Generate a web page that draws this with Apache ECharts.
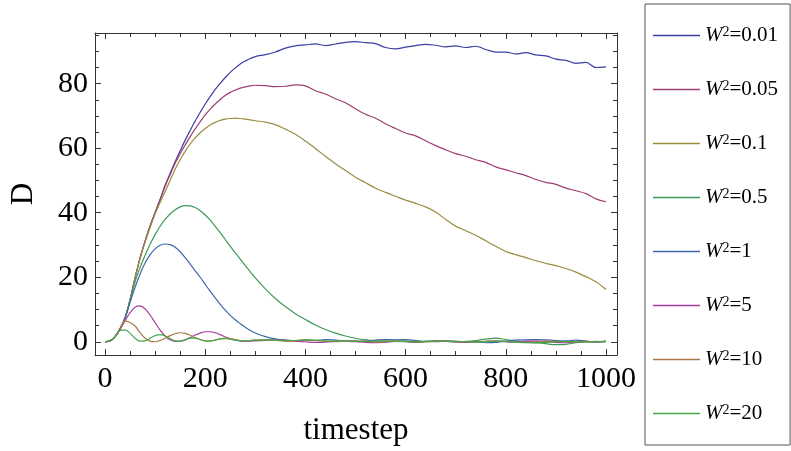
<!DOCTYPE html>
<html>
<head>
<meta charset="utf-8">
<script src="https://cdn.jsdelivr.net/npm/echarts@6.0.0/dist/echarts.min.js"></script>
<style>
  html, body { margin: 0; padding: 0; background: #fff; }
  #chart { width: 791px; height: 451px; }
</style>
</head>
<body>
<div id="chart"></div>
<script>
// ---- data ----
var seriesNames = ['W²=0.01', 'W²=0.05', 'W²=0.1', 'W²=0.5', 'W²=1', 'W²=5', 'W²=10', 'W²=20'];
var tSteps = [0,10,20,30,40,50,60,70,80,90,100,110,120,130,140,150,160,170,180,190,200,210,220,230,240,250,260,270,280,290,300,
  320,340,360,380,400,420,440,460,480,500,520,540,560,580,600,620,640,660,680,700,720,740,760,780,800,820,840,860,880,900,920,940,960,980,1000];
var d001 = [0,0.3,1.6,4.0,7.4,13.0,19.8,26.0,31.2,35.9,40.1,44.2,48.5,52.2,55.8,59.2,62.5,65.5,68.4,71.1,73.7,76.0,78.2,80.1,81.9,83.5,84.9,86.1,87.0,87.8,88.4,
  89.0,89.8,91.0,91.7,92.0,92.3,91.8,92.3,92.8,93.0,92.7,92.4,91.2,90.8,91.3,91.8,92.2,91.9,91.4,91.7,91.2,91.6,90.6,89.8,89.8,89.2,89.6,88.9,88.6,87.6,87.2,86.3,86.6,85.0,85.2];
var d005 = [0,0.3,1.6,4.0,7.4,13.0,19.8,26.0,31.2,35.9,40.0,44.0,48.2,51.8,55.3,58.3,61.0,63.6,66.0,68.2,70.3,72.1,73.7,75.1,76.3,77.3,78.0,78.6,79.0,79.3,79.5,
  79.4,79.1,79.2,79.6,79.3,77.8,76.8,75.3,74.1,72.2,70.5,69.3,67.6,66.1,64.7,63.8,62.3,60.8,59.5,58.3,57.5,56.4,55.6,54.2,53.3,52.4,51.5,50.3,49.4,48.8,47.6,46.8,45.9,44.3,43.4];
var d01 = [0,0.3,1.6,4.0,7.4,13.0,19.7,25.8,30.9,35.4,39.6,43.2,46.6,50.0,53.5,56.4,59.0,61.3,63.2,64.8,66.1,67.2,68.0,68.6,69.0,69.2,69.3,69.2,69.0,68.8,68.5,
  68.1,67.3,65.9,64.3,62.2,59.9,57.5,55.2,53.1,51.0,49.3,47.6,46.3,45.1,43.9,42.9,41.8,40.2,37.9,35.8,34.4,33.0,31.3,29.6,28.0,27.0,26.1,25.1,24.3,23.6,22.7,21.6,20.2,18.6,16.2];
var d05 = [0,0.3,1.6,4.0,7.4,12.8,18.6,23.0,26.8,30.2,33.2,35.8,37.9,39.6,40.9,41.8,42.2,42.1,41.6,40.6,39.3,37.7,35.8,33.8,31.7,29.6,27.6,25.6,23.6,21.7,19.8,
  16.4,13.4,10.9,8.7,6.9,5.2,3.8,2.7,1.8,1.1,0.6,0.3,0.2,0.1,0.3,0.1,0.0,0.2,0.1,-0.1,0.1,0.4,0.8,1.1,0.7,0.2,0.0,-0.2,-0.6,-0.9,-0.8,-0.3,0.0,0.1,0.0];
var d1 = [0,0.3,1.6,4.0,7.3,12.2,16.9,21.0,24.4,27.0,28.8,29.9,30.3,30.1,29.3,27.9,26.1,24.1,22.0,20.0,17.8,15.6,13.6,11.6,9.8,8.2,6.8,5.6,4.5,3.5,2.7,
  1.6,0.9,0.5,0.3,0.5,0.4,0.7,0.5,0.2,0.0,0.2,0.5,0.7,0.6,0.7,0.4,0.1,0.0,0.2,0.1,-0.1,0.0,-0.3,-0.2,0.2,0.5,0.6,0.7,0.6,0.4,0.3,0.5,0.2,-0.1,0.0];
var d5 = [0,0.3,1.6,3.8,6.5,9.0,10.7,11.1,10.2,8.3,5.9,3.6,1.8,0.6,0.1,0.2,0.6,1.3,2.1,2.7,3.1,3.1,2.8,2.2,1.5,0.9,0.5,0.3,0.2,0.2,0.3,
  0.4,0.6,0.5,0.2,0.0,-0.2,-0.1,0.2,0.3,0.1,-0.2,-0.3,-0.1,0.1,0.0,-0.2,0.1,0.3,0.2,0.0,-0.2,-0.1,0.1,0.2,0.0,-0.1,0.2,0.3,0.1,-0.2,-0.3,-0.1,0.1,0.0,0.1];
var d10 = [0,0.3,1.6,3.8,6.5,6.0,4.9,2.8,1.1,0.2,0.0,0.4,1.1,1.9,2.5,2.8,2.6,2.0,1.3,0.7,0.3,0.3,0.6,0.9,1.1,1.0,0.7,0.4,0.3,0.4,0.5,
  0.6,0.4,0.2,0.3,0.5,0.4,0.1,0.0,0.2,0.3,0.1,-0.1,0.0,0.2,0.1,-0.1,0.0,0.2,0.3,0.1,0.0,-0.1,0.1,0.2,0.1,-0.1,-0.2,0.0,0.2,0.1,0.0,-0.1,0.1,0.0,0.1];
var d20 = [0,0.3,1.6,3.5,3.7,2.6,1.1,0.2,0.3,1.1,1.9,2.2,1.8,1.0,0.3,0.2,0.6,1.1,1.1,0.7,0.3,0.2,0.5,0.9,1.0,0.8,0.5,0.3,0.3,0.4,0.5,
  0.6,0.5,0.3,0.4,0.6,0.5,0.3,0.2,0.3,0.2,0.1,0.2,0.3,0.2,0.1,0.0,0.1,0.3,0.2,0.1,0.0,-0.1,0.0,0.2,0.1,-0.1,-0.3,-0.4,-0.2,0.0,0.1,0.0,-0.1,0.0,0.1];
var xMajorTicks = [0, 200, 400, 600, 800, 1000];
var xMinorTicks = [50,100,150,250,300,350,450,500,550,650,700,750,850,900,950];
var yMajorTicks = [0, 20, 40, 60, 80];
var yMinorTicks = [5,10,15,25,30,35,45,50,55,65,70,75,85,90,95];

var allValues = [d001, d005, d01, d05, d1, d5, d10, d20];
var colors = ['#3d3da3', '#a03d72', '#9c8c3c', '#3d9a58', '#3f68aa', '#a53d9e', '#a8784a', '#48a848'];

// ---- chart ----
var FONT = 'Liberation Serif';
var X_MIN = -20, X_MAX = 1022, Y_MIN = -4.1, Y_MAX = 95.7;
var frameColor = '#333';
function plainNum(v) { return String(v); }

function xAxisDef(pos, ticks, len, showLine, showLabel) {
  return {
    type: 'value', position: pos, min: X_MIN, max: X_MAX,
    axisLine: { show: showLine, onZero: false, lineStyle: { color: frameColor, width: 1 } },
    axisTick: { show: true, inside: true, length: len, customValues: ticks, lineStyle: { color: frameColor, width: 1 } },
    axisLabel: { show: showLabel, customValues: ticks, formatter: plainNum, fontFamily: FONT, fontSize: 30, color: '#000', margin: 9 },
    splitLine: { show: false }
  };
}
function yAxisDef(pos, ticks, len, showLine, showLabel) {
  return {
    type: 'value', position: pos, min: Y_MIN, max: Y_MAX,
    axisLine: { show: showLine, onZero: false, lineStyle: { color: frameColor, width: 1 } },
    axisTick: { show: true, inside: true, length: len, customValues: ticks, lineStyle: { color: frameColor, width: 1 } },
    axisLabel: { show: showLabel, customValues: ticks, formatter: plainNum, fontFamily: FONT, fontSize: 30, color: '#000', margin: 7 },
    splitLine: { show: false }
  };
}

var xAxes = [
  xAxisDef('bottom', xMajorTicks, 6, true, true),
  xAxisDef('bottom', xMinorTicks, 4, false, false),
  xAxisDef('top', xMajorTicks, 6, true, false),
  xAxisDef('top', xMinorTicks, 4, false, false)
];
xAxes[0].name = 'timestep';
xAxes[0].nameLocation = 'middle';
xAxes[0].nameGap = 60;
xAxes[0].nameTextStyle = { fontFamily: FONT, fontSize: 31, color: '#000' };

var yAxes = [
  yAxisDef('left', yMajorTicks, 6, true, true),
  yAxisDef('left', yMinorTicks, 4, false, false),
  yAxisDef('right', yMajorTicks, 6, true, false),
  yAxisDef('right', yMinorTicks, 4, false, false)
];
yAxes[0].name = 'D';
yAxes[0].nameLocation = 'middle';
yAxes[0].nameGap = 56;
yAxes[0].nameRotate = 90;
yAxes[0].nameTextStyle = { fontFamily: FONT, fontSize: 31, color: '#000' };

var series = seriesNames.map(function (name, i) {
  var vals = allValues[i];
  return {
    name: name, type: 'line', xAxisIndex: 0, yAxisIndex: 0,
    data: tSteps.map(function (t, k) { return [t, vals[k]]; }),
    symbol: 'none', showSymbol: false, smooth: 0.35,
    lineStyle: { width: 1.2, color: colors[i] },
    itemStyle: { color: colors[i] },
    z: 2 + i
  };
});

var chart = echarts.init(document.getElementById('chart'), null, { renderer: 'canvas' });
chart.setOption({
  animation: false,
  backgroundColor: '#fff',
  grid: { left: 94, right: 174, top: 33, bottom: 96, containLabel: false },
  xAxis: xAxes,
  yAxis: yAxes,
  legend: {
    orient: 'vertical', left: 645, top: 4,
    padding: [21, 12, 21, 8],
    itemGap: 33, itemWidth: 47, itemHeight: 1.4,
    icon: 'rect',
    selectedMode: false,
    borderColor: '#555', borderWidth: 1,
    data: seriesNames,
    formatter: function (name) {
      var v = name.split('=')[1];
      return '{w|W}{s|2}{n|=' + v + '}';
    },
    textStyle: {
      fontFamily: FONT, color: '#000',
      rich: {
        w: { fontFamily: FONT, fontStyle: 'italic', fontSize: 21, lineHeight: 20, color: '#000' },
        s: { fontFamily: FONT, fontSize: 14, lineHeight: 20, verticalAlign: 'top', color: '#000' },
        n: { fontFamily: FONT, fontSize: 21, lineHeight: 20, color: '#000' }
      }
    }
  },
  series: series
});
</script>
</body>
</html>
